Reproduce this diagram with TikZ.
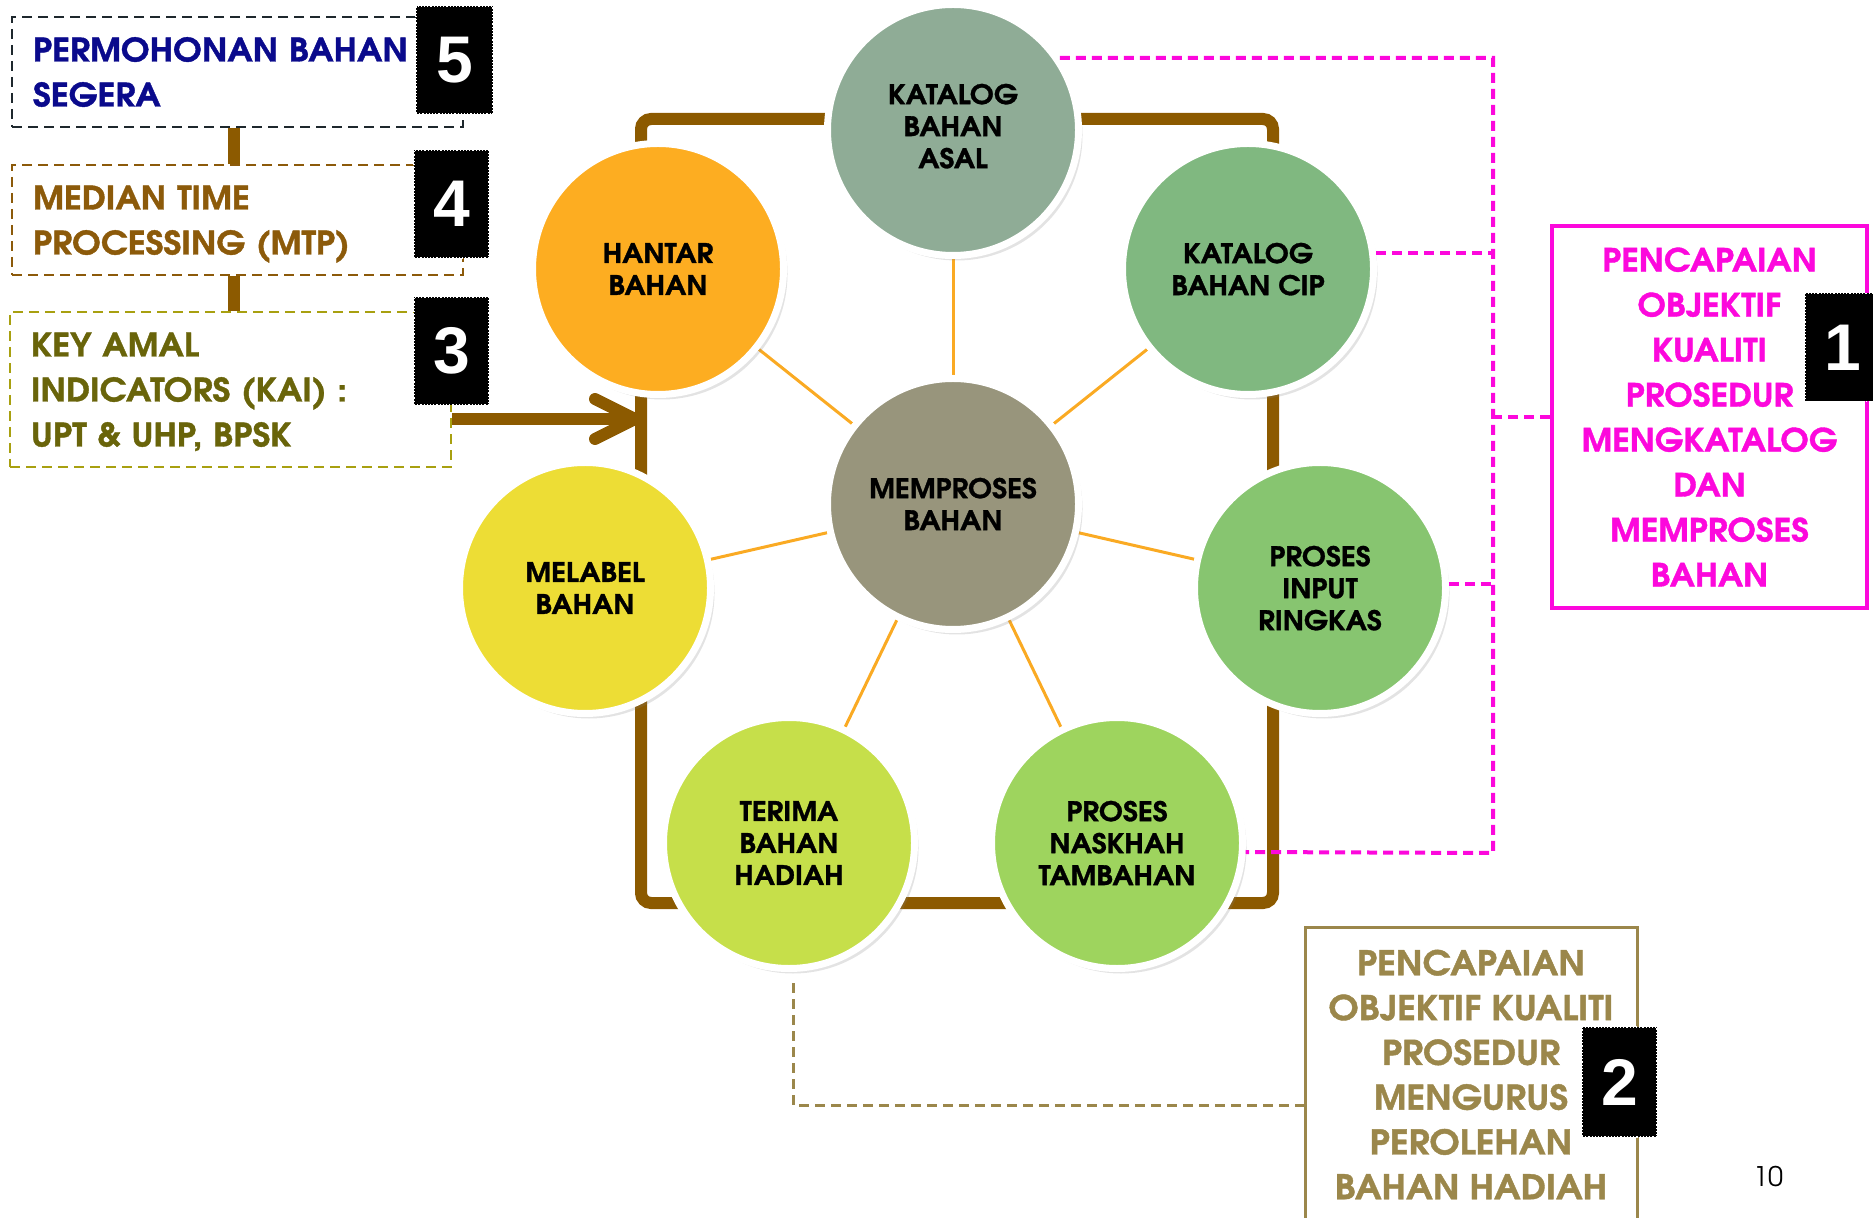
\documentclass[tikz,border=0pt]{standalone}
\usepackage{fontspec}
\setmainfont{TeX Gyre Adventor}[BoldFeatures={FakeBold=1.2,FakeStretch=1.06}]
\newfontfamily\digitfont{Liberation Sans}
\usetikzlibrary{arrows.meta,shadows,backgrounds}

\definecolor{brownF}{RGB}{140,90,0}
\definecolor{spokeC}{RGB}{250,170,35}
\definecolor{pinkC}{RGB}{252,8,220}
\definecolor{tanC}{RGB}{155,135,75}
\definecolor{navyT}{RGB}{10,10,140}
\definecolor{brownT}{RGB}{140,90,10}
\definecolor{oliveT}{RGB}{105,100,10}
\definecolor{oliveD}{RGB}{168,160,16}
\definecolor{darkD}{RGB}{30,40,45}
\definecolor{cAsal}{RGB}{143,172,150}
\definecolor{cHantar}{RGB}{253,173,33}
\definecolor{cCip}{RGB}{128,184,128}
\definecolor{cMem}{RGB}{152,149,124}
\definecolor{cLabel}{RGB}{237,221,53}
\definecolor{cInput}{RGB}{135,197,112}
\definecolor{cTerima}{RGB}{198,223,74}
\definecolor{cNaskhah}{RGB}{158,212,94}

\begin{document}
\begin{tikzpicture}[x=0.5pt,y=-0.5pt,
  bubble/.style={circle, draw=white, line width=3.5pt, minimum size=125.5pt,
    inner sep=0pt, align=center, text=black, text depth=0pt,
    font=\bfseries\fontsize{13.5}{16}\selectfont,
    drop shadow={opacity=0.22, shadow xshift=2pt, shadow yshift=-2.5pt}},
  leftbox/.style={rectangle, dash pattern=on 5pt off 3pt, line width=1.3pt,
    align=left, inner xsep=10.5pt, inner ysep=0pt, text height=12pt,
    font=\bfseries\fontsize{16.2}{22.5}\selectfont},
  numbox/.style={rectangle, fill=black, draw=white, densely dotted, line width=0.6pt,
    minimum width=37.5pt, minimum height=54pt, inner sep=0pt, text=white,
    font=\digitfont\bfseries\fontsize{33}{33}\selectfont},
  goalbox/.style={rectangle, align=center, inner sep=0pt, text depth=0pt},
  spokeS/.style={draw=spokeC, line width=1.5pt},
  pinkdash/.style={draw=pinkC, line width=2pt, dash pattern=on 5pt off 3pt},
  tandash/.style={draw=tanC, line width=1.5pt, dash pattern=on 5pt off 3pt},
  brownbar/.style={draw=brownF, line width=6pt}
]
\useasboundingbox (0,0) rectangle (1873,1218);
\clip (0,0) rectangle (1873,1218);

% frame
\node[draw=brownF, line width=6pt, rounded corners=5pt, minimum width=316pt,
  minimum height=392pt, outer sep=0pt, inner sep=0pt] (frame) at (957,511) {};

% circles
\node[bubble, fill=cAsal, text depth=4pt] (ka)  at (953,130) {KATALOG\\BAHAN\\ASAL};
\node[bubble, fill=cHantar]  (han) at (658,269) {HANTAR\\BAHAN};
\node[bubble, fill=cCip]     (cip) at (1248,269) {KATALOG\\BAHAN CIP};
\node[bubble, fill=cMem]     (mem) at (953,504) {MEMPROSES\\BAHAN};
\node[bubble, fill=cLabel]   (lab) at (585,588) {MELABEL\\BAHAN};
\node[bubble, fill=cInput]   (inp) at (1320,588) {PROSES\\INPUT\\RINGKAS};
\node[bubble, fill=cTerima]  (ter) at (789,843) {TERIMA\\BAHAN\\HADIAH};
\node[bubble, fill=cNaskhah] (nas) at (1117,843) {PROSES\\NASKHAH\\TAMBAHAN};

% spokes
\begin{scope}[on background layer]
  \foreach \t in {ka,han,cip,lab,inp,ter,nas} { \draw[spokeS] (mem) -- (\t); }
\end{scope}

% left boxes
\node[leftbox, draw=darkD, text=navyT, text width=204.5pt, minimum height=55pt,
  text depth=22.5pt] (b5) at (237.5,72) {PERMOHONAN BAHAN\\SEGERA};
\node[leftbox, draw=brownT, text=brownT, text width=204.5pt, minimum height=55pt,
  text depth=22.5pt] (b4) at (237.5,220) {MEDIAN TIME\\PROCESSING (MTP)};
\node[leftbox, draw=oliveD, text=oliveT, text width=199.5pt, minimum height=77.5pt,
  text depth=45pt] (b3) at (230.5,389.5) {KEY AMAL\\INDICATORS (KAI) :\\UPT \& UHP, BPSK};

\draw[brownbar] ([xshift=-1.75pt]b5.south) -- ([xshift=-1.75pt]b5.south |- b4.north);
\draw[brownbar] ([xshift=-1.75pt]b4.south) -- ([xshift=-1.75pt]b4.south |- b3.north);

% arrow into frame
\coordinate (arS) at ([yshift=-14.75pt]b3.east);
\draw[brownbar, -{Straight Barb[length=20pt,width=20pt,line cap=round,line join=round]}]
  (arS) -- (arS -| frame.west);

% goal boxes
\node[goalbox, draw=pinkC, line width=1.8pt, text=pinkC, minimum width=157.5pt,
  minimum height=191pt, font=\bfseries\fontsize{16}{22.5}\selectfont] (box1) at (1709.5,417)
  {PENCAPAIAN\\OBJEKTIF\\KUALITI\\PROSEDUR\\MENGKATALOG\\DAN\\MEMPROSES\\BAHAN};
\node[goalbox, draw=tanC, line width=1.5pt, text=tanC, minimum width=166pt,
  minimum height=147.5pt, font=\bfseries\fontsize{17}{22.4}\selectfont] (box2) at (1471,1074.5)
  {PENCAPAIAN\\OBJEKTIF KUALITI\\PROSEDUR\\MENGURUS\\PEROLEHAN\\BAHAN HADIAH};

% pink dashed bracket
\coordinate (pT) at (1493,58);
\coordinate (pB) at (1493,853);
\draw[pinkdash] (ka.34) -- (ka.34 -| pT) -- (pB) -- (nas.-4.4);
\draw[pinkdash] (cip.7.1) -- (cip.7.1 -| pT);
\draw[pinkdash] (inp.2.2) -- (inp.2.2 -| pT);
\draw[pinkdash] (box1.west) -- (box1.west -| pT);

% tan dashed connector
\coordinate (oc) at (793,1105);
\draw[tandash] ([xshift=2pt,yshift=-5.5pt]ter.south) |- (box2.west |- oc);

% number badges
\node[numbox, minimum width=38.5pt] (n5) at (454.5,60) {5};
\node[numbox] (n4) at (451.5,204) {4};
\node[numbox] (n3) at (451.5,351) {3};
\node[numbox, minimum width=38pt] (n1) at (1843,347.5) {1};
\node[numbox, minimum height=55pt] (n2) at (1619.5,1082) {2};

% page number
\node[font=\fontsize{13.5}{13.5}\selectfont] (pg) at (1768,1177) {10};
\end{tikzpicture}
\end{document}
